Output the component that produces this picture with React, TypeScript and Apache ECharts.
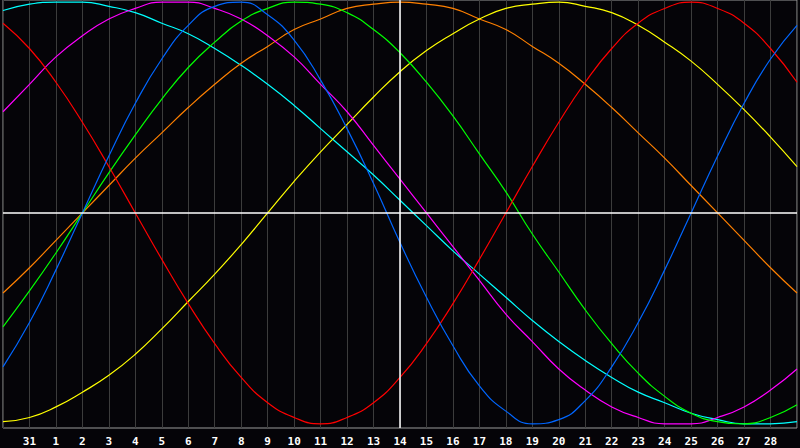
import React, { useEffect, useRef } from 'react';
import * as echarts from 'echarts';

// day labels across the window (first and last sit on the frame edges, no label)
const days = [
  '30', '31', '1', '2', '3', '4', '5', '6', '7', '8', '9', '10', '11', '12', '13', '14',
  '15', '16', '17', '18', '19', '20', '21', '22', '23', '24', '25', '26', '27', '28', '29',
];

// cycle values in percent, one per day
const physical = [-73, -52, -27, 0, 27, 52, 73, 89, 98, 100, 94, 82, 63, 40, 14, -14, -40, -63, -82, -94, -100, -98, -89, -73, -52, -27, 0, 27, 52, 73, 89];
const emotional = [90, 78, 62, 43, 22, 0, -22, -43, -62, -78, -90, -97, -100, -97, -90, -78, -62, -43, -22, 0, 22, 43, 62, 78, 90, 97, 100, 97, 90, 78, 62];
const intellectual = [-54, -37, -19, 0, 19, 37, 54, 69, 81, 91, 97, 100, 99, 95, 87, 76, 62, 46, 28, 10, -10, -28, -46, -62, -76, -87, -95, -99, -100, -97, -91];
const intuitive = [48, 61, 74, 84, 92, 97, 100, 100, 97, 92, 84, 74, 61, 48, 32, 16, 0, -16, -32, -48, -61, -74, -84, -92, -97, -100, -100, -97, -92, -84, -74];
const aesthetic = [-99, -97, -92, -85, -77, -67, -55, -42, -29, -15, 0, 15, 29, 42, 55, 67, 77, 85, 92, 97, 99, 100, 98, 95, 89, 81, 72, 61, 49, 36, 22];
const awareness = [-38, -26, -13, 0, 13, 26, 38, 50, 61, 71, 79, 87, 92, 97, 99, 100, 99, 97, 92, 87, 79, 71, 61, 50, 38, 26, 13, 0, -13, -26, -38];
const spiritual = [96, 99, 100, 100, 98, 95, 90, 85, 78, 70, 61, 51, 40, 29, 18, 6, -6, -18, -29, -40, -51, -61, -70, -78, -85, -90, -95, -98, -100, -100, -99];

const today = '14';

const cycles = [
  { name: 'Spiritual', data: spiritual, color: '#00ffff' },
  { name: 'Awareness', data: awareness, color: '#ff8000' },
  { name: 'Aesthetic', data: aesthetic, color: '#ffff00' },
  { name: 'Intuitive', data: intuitive, color: '#ff00ff' },
  { name: 'Intellectual', data: intellectual, color: '#00ff00' },
  { name: 'Emotional', data: emotional, color: '#ff0000' },
  { name: 'Physical', data: physical, color: '#0066ff' },
];

const App: React.FC = () => {
  const chartRef = useRef<HTMLDivElement>(null);

  useEffect(() => {
    const chart = echarts.init(chartRef.current!, null, { renderer: 'svg' });

    const series: any[] = cycles.map((c) => ({
      name: c.name,
      type: 'line',
      data: c.data,
      smooth: true,
      symbol: 'none',
      lineStyle: { color: c.color, width: 1.2 },
      z: 3,
    }));

    // zero line and today marker
    series.push({
      type: 'line',
      data: [],
      z: 2,
      markLine: {
        silent: true,
        symbol: 'none',
        label: { show: false },
        lineStyle: { color: '#ffffff', width: 1.5, type: 'solid' },
        data: [{ yAxis: 0 }, { xAxis: today }],
      },
    });

    chart.setOption({
      animation: false,
      backgroundColor: '#050408',
      grid: {
        left: 0,
        right: 1,
        top: 0,
        bottom: 20,
        show: true,
        borderColor: '#9a9a9a',
        borderWidth: 1,
      },
      xAxis: {
        type: 'category',
        data: days,
        boundaryGap: false,
        axisLine: { show: false },
        axisTick: { show: false },
        splitLine: { show: true, interval: 0, lineStyle: { color: '#3c3c3c', width: 1 } },
        axisLabel: {
          interval: 0,
          margin: 8,
          color: '#ffffff',
          fontFamily: 'DejaVu Sans Mono',
          fontWeight: 'bold',
          fontSize: 11,
          formatter: (v: string, i: number) => (i === 0 || i === days.length - 1 ? '' : v),
        },
      },
      yAxis: {
        type: 'value',
        min: -102,
        max: 101,
        show: false,
        splitLine: { show: false },
      },
      series,
    });

    return () => {
      chart.dispose();
    };
  }, []);

  return (
    <div
      ref={chartRef}
      style={{ position: 'absolute', left: 0, top: 0, width: '800px', height: '448px' }}
    />
  );
};

export default App;
